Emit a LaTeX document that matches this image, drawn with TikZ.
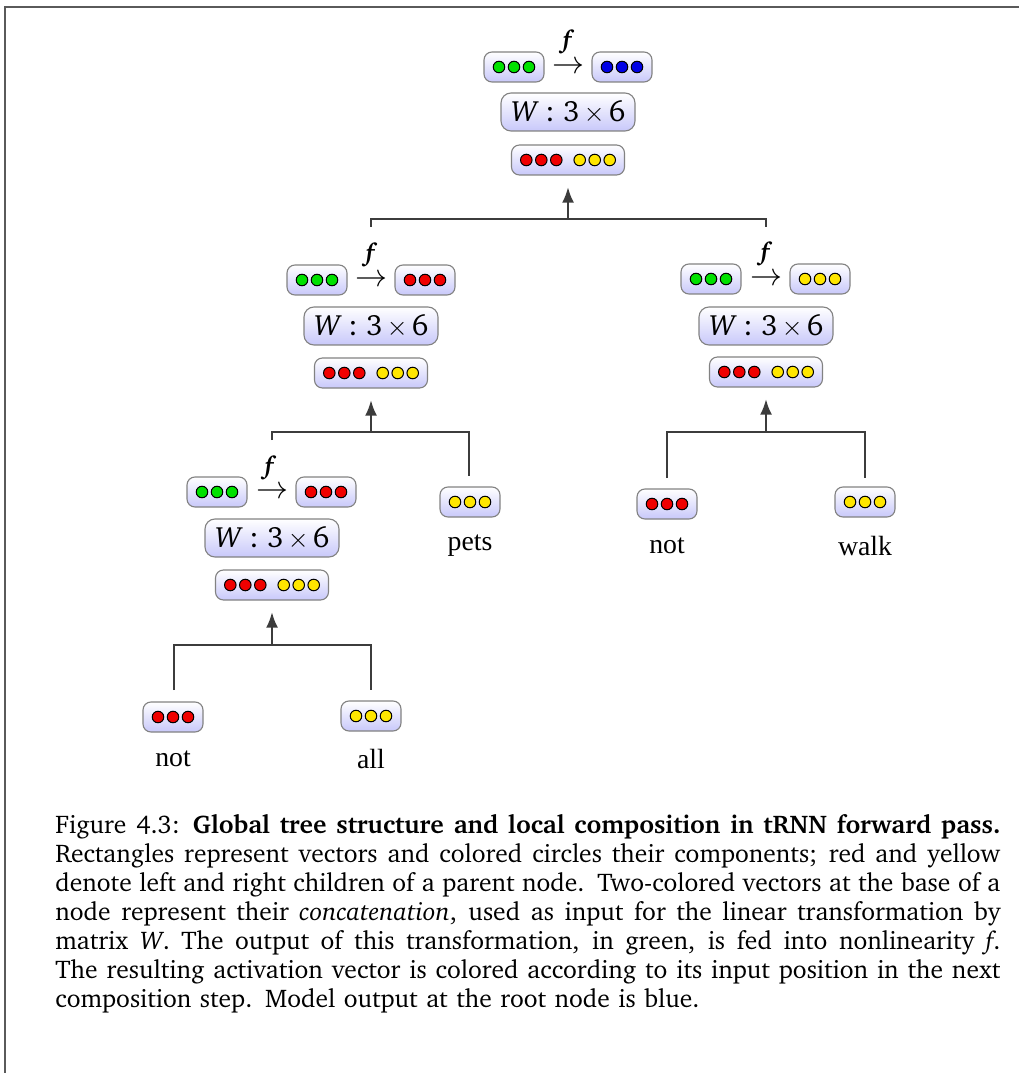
\documentclass[tikz,border=0pt]{standalone}
\usepackage[T1]{fontenc}
\usepackage{fontspec}
\usetikzlibrary{arrows.meta}
\newfontfamily\labfont{Liberation Serif}
\newcommand\chfont{\fontencoding{T1}\fontfamily{bch}\selectfont}
\definecolor{vgreen}{RGB}{0,225,0}
\definecolor{vred}{RGB}{240,0,0}
\definecolor{vyellow}{RGB}{255,230,0}
\definecolor{vblue}{RGB}{0,0,230}
\definecolor{lav}{RGB}{200,200,250}
\definecolor{bord}{RGB}{130,130,130}
\definecolor{connc}{RGB}{60,60,60}
\definecolor{framec}{RGB}{90,90,90}
\tikzset{
  vecbox/.style={rounded corners=3.6pt, draw=bord, line width=0.5pt, top color=white, bottom color=lav, minimum width=27pt, minimum height=13.5pt, inner sep=0pt},
  catbox/.style={vecbox, minimum width=50.85pt},
  wbox/.style={rounded corners=4.5pt, draw=bord, line width=0.5pt, top color=white, bottom color=lav, minimum width=60.3pt, minimum height=17.1pt, inner sep=0pt, font=\chfont\fontsize{13.2}{15}\selectfont},
  dotst/.style={draw=black, line width=0.45pt},
  arrnode/.style={inner sep=0pt, font=\fontsize{14}{15}\selectfont},
  fnode/.style={inner sep=0pt, anchor=base, font=\chfont\fontsize{11.5}{13}\selectfont\bfseries\itshape},
  lab/.style={inner sep=0pt, anchor=base, font=\labfont\fontsize{12.5}{15}\selectfont},
  edge/.style={draw=connc, line width=1pt},
  uparrow/.style={edge, -{Latex[length=7pt,width=5.4pt]}, shorten >=5.2pt},
}
\newcommand\vecdots[2]{\foreach \cc [count=\ii] in {#2} {\filldraw[dotst, fill=\cc] ([xshift={(\ii-2)*6.75pt}]#1.center) circle[radius=2.6pt];}}
\newcommand\catdots[1]{\foreach \cc/\xx in {vred/-18.77, vred/-12.02, vred/-5.27, vyellow/5.27, vyellow/12.02, vyellow/18.77} {\filldraw[dotst, fill=\cc] ([xshift=\xx pt]#1.center) circle[radius=2.6pt];}}
\newcommand\Wtext{\textit{W}\hspace{0.22em}:\hspace{0.3em}3\hspace{0.14em}$\times$\hspace{0.14em}6}
\newcommand\capl[1]{\noindent\hbox to 425.25pt{\spaceskip=\fontdimen2\font plus 0.6em minus 0.08em #1}\par}
\begin{document}
\begin{tikzpicture}[x=0.45pt, y=-0.45pt]
\useasboundingbox (0,0) rectangle (1019,1073);
\draw[framec, line width=0.9pt] (5,1073) -- (5,7) -- (1019,7);

% ---------- root ----------
\node[vecbox] (r-out1) at (514,67) {}; \vecdots{r-out1}{vgreen,vgreen,vgreen}
\node[vecbox] (r-out2) at (622,67) {}; \vecdots{r-out2}{vblue,vblue,vblue}
\node[arrnode] (r-arr) at (568,68) {$\rightarrow$};
\node[fnode] (r-f) at (567,49) {f};
\node[wbox] (r-w) at (568,112) {\Wtext};
\node[catbox] (r-cat) at (568,160) {}; \catdots{r-cat}
\coordinate (r-j) at (568,219);
\coordinate (r-sl) at (371,227);
\coordinate (r-sr) at (766,227);
\draw[edge] (r-sl) |- (r-j) -| (r-sr);
\draw[uparrow] (r-j) -- (r-cat);

% ---------- left level 2 ----------
\node[vecbox] (a-out1) at (317,280) {}; \vecdots{a-out1}{vgreen,vgreen,vgreen}
\node[vecbox] (a-out2) at (425,280) {}; \vecdots{a-out2}{vred,vred,vred}
\node[arrnode] (a-arr) at (371,281) {$\rightarrow$};
\node[fnode] (a-f) at (370,262) {f};
\node[wbox] (a-w) at (371,326) {\Wtext};
\node[catbox] (a-cat) at (371,373) {}; \catdots{a-cat}
\coordinate (a-j) at (371,432);
\coordinate (a-sl) at (272,440);
\coordinate (a-sr) at (469,476);
\draw[edge] (a-sl) |- (a-j) -| (a-sr);
\draw[uparrow] (a-j) -- (a-cat);

\node[vecbox] (pets) at (470,502) {}; \vecdots{pets}{vyellow,vyellow,vyellow}
\node[lab] (pets-t) at (470,550) {pets};

% ---------- right level 2 ----------
\node[vecbox] (b-out1) at (711,279) {}; \vecdots{b-out1}{vgreen,vgreen,vgreen}
\node[vecbox] (b-out2) at (820,279) {}; \vecdots{b-out2}{vyellow,vyellow,vyellow}
\node[arrnode] (b-arr) at (766,280) {$\rightarrow$};
\node[fnode] (b-f) at (765,261) {f};
\node[wbox] (b-w) at (766,326) {\Wtext};
\node[catbox] (b-cat) at (766,372) {}; \catdots{b-cat}
\coordinate (b-j) at (766,432);
\coordinate (b-sl) at (667,478);
\coordinate (b-sr) at (865,478);
\draw[edge] (b-sl) |- (b-j) -| (b-sr);
\draw[uparrow] (b-j) -- (b-cat);

\node[vecbox] (not2) at (667,504) {}; \vecdots{not2}{vred,vred,vred}
\node[lab] (not2-t) at (667,553) {not};
\node[vecbox] (walk) at (865,502) {}; \vecdots{walk}{vyellow,vyellow,vyellow}
\node[lab] (walk-t) at (865,555) {walk};

% ---------- left level 3 ----------
\node[vecbox] (c-out1) at (217,492) {}; \vecdots{c-out1}{vgreen,vgreen,vgreen}
\node[vecbox] (c-out2) at (326,492) {}; \vecdots{c-out2}{vred,vred,vred}
\node[arrnode] (c-arr) at (272,493) {$\rightarrow$};
\node[fnode] (c-f) at (269,474) {f};
\node[wbox] (c-w) at (272,538) {\Wtext};
\node[catbox] (c-cat) at (272,585) {}; \catdots{c-cat}
\coordinate (c-j) at (272,645);
\coordinate (c-sl) at (174,690);
\coordinate (c-sr) at (371,690);
\draw[edge] (c-sl) |- (c-j) -| (c-sr);
\draw[uparrow] (c-j) -- (c-cat);

\node[vecbox] (not1) at (173,717) {}; \vecdots{not1}{vred,vred,vred}
\node[lab] (not1-t) at (173,766) {not};
\node[vecbox] (all) at (371,716) {}; \vecdots{all}{vyellow,vyellow,vyellow}
\node[lab] (all-t) at (371,768) {all};

% ---------- caption ----------
\node[anchor=north west, inner sep=0pt, text width=425.25pt, font=\chfont\fontsize{11.5}{13.05}\selectfont] (cap) at (55,814) {%
\capl{Figure 4.3: \textbf{Global tree structure and local composition in tRNN forward pass.}}
\capl{Rectangles represent vectors and colored circles their components; red and yellow}
\capl{denote left and right children of a parent node. Two-colored vectors at the base of a}
\capl{node represent their \textit{concatenation}, used as input for the linear transformation by}
\capl{matrix \textit{W}. The output of this transformation, in green, is fed into nonlinearity \textit{f}.}
\capl{The resulting activation vector is colored according to its input position in the next}
\noindent composition step. Model output at the root node is blue.\par};
\end{tikzpicture}
\end{document}
